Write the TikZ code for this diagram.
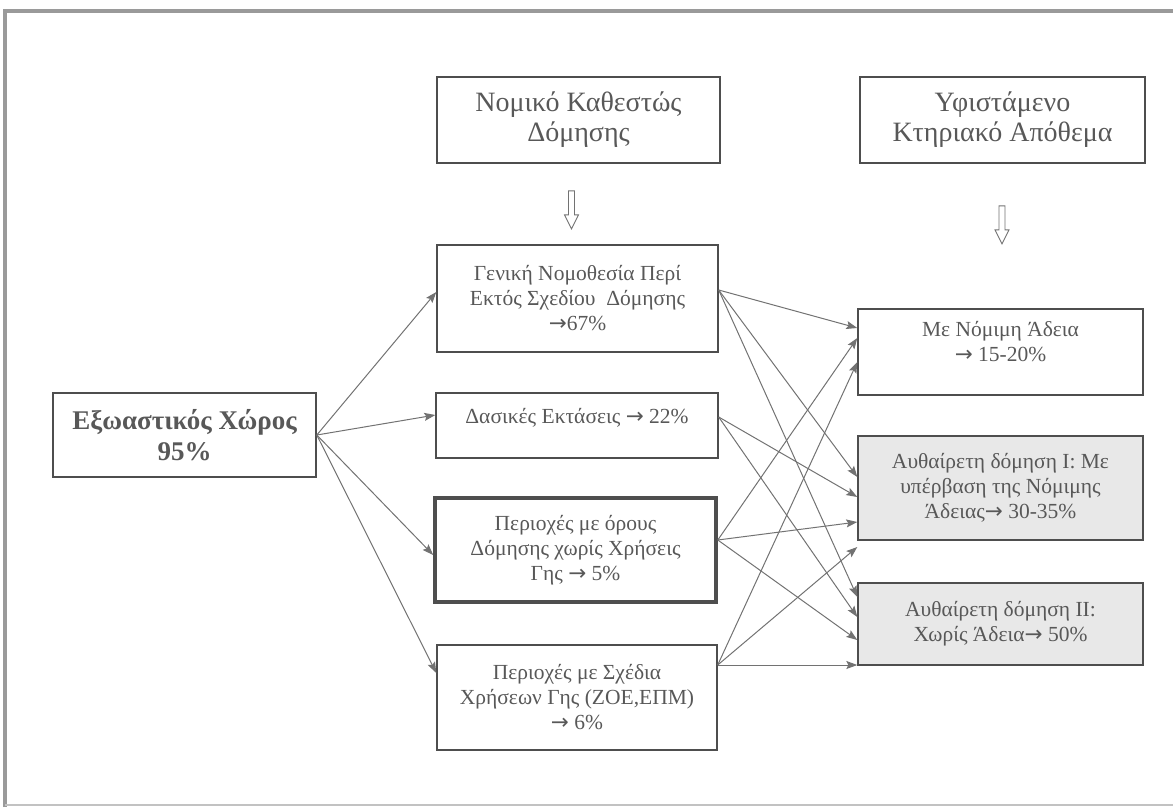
\documentclass[tikz,border=0pt]{standalone}
\usepackage{fontspec}
\setmainfont{Liberation Serif}
\newfontfamily\arrfont{DejaVu Sans}
\newcommand{\rarr}{{\arrfont →}}
\usetikzlibrary{arrows.meta,calc}
\definecolor{txt}{HTML}{585858}
\definecolor{lgray}{HTML}{727272}
\definecolor{bline}{HTML}{4E4E4E}
\definecolor{gfill}{HTML}{E8E8E8}
\definecolor{frame}{HTML}{9A9A9A}
\begin{document}
\begin{tikzpicture}[x=1pt,y=-1pt,
  box/.style={draw=bline, line width=1.4pt, align=center, text=txt, inner sep=2pt,
    font=\fontsize{21.5}{25}\selectfont},
  head/.style={box, line width=1.6pt, font=\fontsize{28}{30}\selectfont},
  shaded/.style={box, fill=gfill},
  conn/.style={draw=lgray, line width=1pt, -{Stealth[length=11pt,width=8pt,inset=2pt]}},
  hollow/.style={draw=lgray, line width=0.9pt, fill=white}]
\useasboundingbox (0,0) rectangle (1173,807);
% outer frame
\draw[frame, line width=4pt] (5,807) -- (5,11) -- (1173,11);
\draw[frame!60, line width=1.5pt] (5,805) -- (1173,805);

% headers
\node[head, minimum width=283pt, minimum height=86pt] (hd1) at (578.5,120) {Νομικό Καθεστώς\\Δόμησης};
\node[head, minimum width=285pt, minimum height=86pt] (hd2) at (1002.5,120) {Υφιστάμενο\\Κτηριακό Απόθεμα};

% hollow down arrows
\draw[hollow] ($(hd1.south)+(-10,27)$) -- ++(6,0) -- ++(0,24) -- ++(4,0) -- ++(-7,14) -- ++(-7,-14) -- ++(4,0) -- cycle;
\draw[hollow] ($(hd2.south)+(-3.5,42)$) -- ++(6,0) -- ++(0,24) -- ++(4,0) -- ++(-7,14) -- ++(-7,-14) -- ++(4,0) -- cycle;

% left box
\node[box, line width=1.6pt, minimum width=263pt, minimum height=84pt,
  font=\fontsize{27}{31}\selectfont\bfseries] (lb) at (184.5,435) {Εξωαστικός Χώρος\\95\%};

% middle column
\node[box, minimum width=281pt, minimum height=107pt] (g1) at (577.5,298.5)
  {Γενική Νομοθεσία Περί\\Εκτός Σχεδίου\ \ Δόμησης\\\rarr67\%};
\node[box, minimum width=282pt, minimum height=65pt] (g2) at (577,425.5)
  {Δασικές Εκτάσεις \rarr{} 22\%\\[-6pt]\mbox{}};
\node[box, line width=3.6pt, minimum width=281pt, minimum height=104pt] (g3) at (575.5,550)
  {Περιοχές με όρους\\Δόμησης χωρίς Χρήσεις\\Γης \rarr{} 5\%};
\node[box, minimum width=280pt, minimum height=105pt] (g4) at (577,697.5)
  {Περιοχές με Σχέδια\\Χρήσεων Γης (ΖΟΕ,ΕΠΜ)\\\rarr{} 6\%};

% right column
\node[box, minimum width=285pt, minimum height=86pt] (r1) at (1000.5,352)
  {Με Νόμιμη Άδεια\\\rarr{} 15-20\%\\[-3pt]\mbox{}};
\node[shaded, minimum width=285pt, minimum height=104pt] (r2) at (1000.5,488)
  {Αυθαίρετη δόμηση Ι: Με\\υπέρβαση της Νόμιμης\\Άδειας\rarr{} 30-35\%};
\node[shaded, minimum width=285pt, minimum height=82pt] (r3) at (1000.5,624)
  {Αυθαίρετη δόμηση ΙΙ:\\Χωρίς Άδεια\rarr{} 50\%};

% left box to middle column
\draw[conn] (lb.east) -- ([yshift=6.5pt]g1.west);
\draw[conn] (lb.east) -- ([yshift=10.5pt]g2.west);
\draw[conn] (lb.east) -- ([yshift=-5pt]g3.west);
\draw[conn] (lb.east) -- ([yshift=24.5pt]g4.west);

% middle to right
\draw[conn] ([yshift=8.5pt]g1.east) -- ([yshift=24pt]r1.west);
\draw[conn] ([yshift=8.5pt]g1.east) -- ([yshift=11pt]r2.west);
\draw[conn] ([yshift=8.5pt]g1.east) -- ([yshift=27pt]r3.west);

\draw[conn] ([yshift=8.5pt]g2.east) -- ([yshift=-9pt]r2.west);
\draw[conn] ([yshift=8.5pt]g2.east) -- ([yshift=7pt]r3.west);

\draw[conn] ([yshift=10pt]g3.east) -- ([yshift=14pt]r1.west);
\draw[conn] ([yshift=10pt]g3.east) -- ([yshift=-34pt]r2.west);
\draw[conn] ([yshift=10pt]g3.east) -- ([yshift=-16pt]r3.west);

\draw[conn] ([yshift=32.5pt]g4.east) -- ([yshift=-10pt]r1.west);
\draw[conn] ([yshift=32.5pt]g4.east) -- ([yshift=-59pt]r2.west);
\draw[conn] ([yshift=32.5pt]g4.east) -- ([yshift=-41pt]r3.west);
\end{tikzpicture}
\end{document}
